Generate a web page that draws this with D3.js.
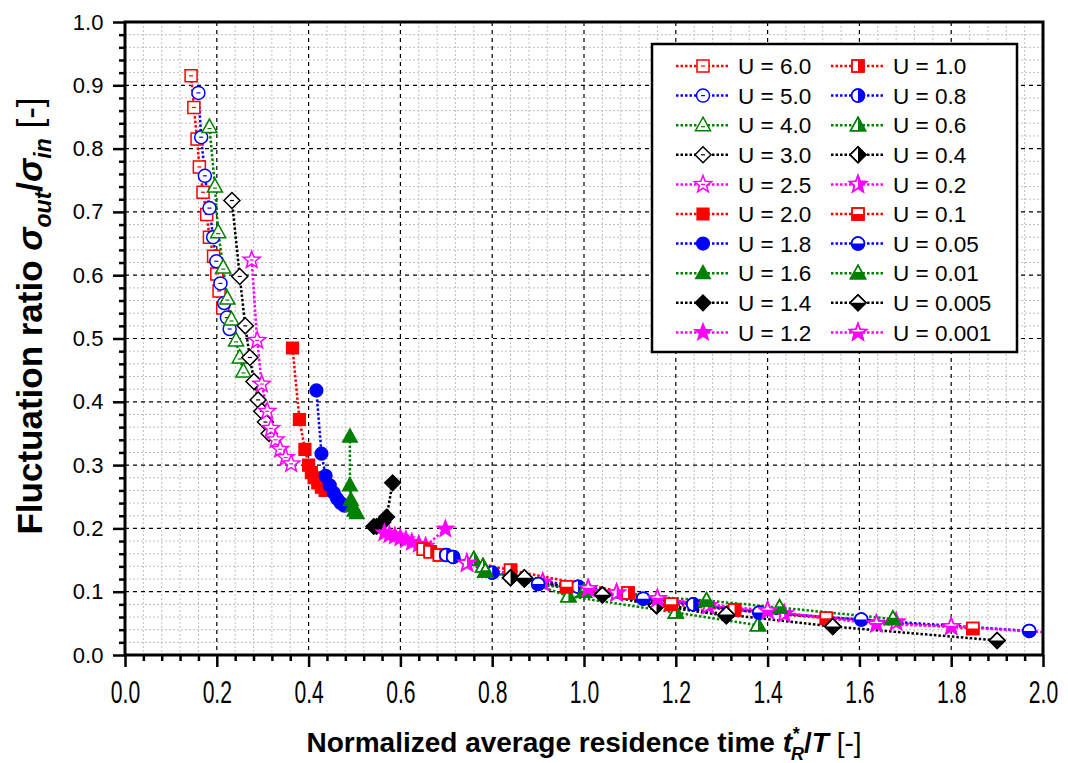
<!DOCTYPE html>
<html><head><meta charset="utf-8">
<script src="https://cdn.jsdelivr.net/npm/d3@7"></script>
<style>body{margin:0;background:#fff}svg{display:block}</style>
</head><body>
<svg id="chart" width="1068" height="763"></svg>
<script>
// ---------------- DATA ----------------
const xTickLabels = ["0.0","0.2","0.4","0.6","0.8","1.0","1.2","1.4","1.6","1.8","2.0"];
const yTickLabels = ["0.0","0.1","0.2","0.3","0.4","0.5","0.6","0.7","0.8","0.9","1.0"];
const seriesLabels = ["U = 6.0","U = 5.0","U = 4.0","U = 3.0","U = 2.5","U = 2.0","U = 1.8","U = 1.6","U = 1.4","U = 1.2",
                      "U = 1.0","U = 0.8","U = 0.6","U = 0.4","U = 0.2","U = 0.1","U = 0.05","U = 0.01","U = 0.005","U = 0.001"];

const u6_0 = [[0.144,0.915],[0.150,0.865],[0.157,0.815],[0.162,0.771],[0.170,0.731],[0.178,0.696],[0.184,0.660],[0.193,0.630],[0.200,0.602],[0.205,0.575],[0.213,0.548]];
const u5_0 = [[0.160,0.888],[0.166,0.818],[0.174,0.757],[0.184,0.706],[0.192,0.660],[0.199,0.622],[0.208,0.587],[0.216,0.556],[0.222,0.533],[0.228,0.515]];
const u4_0 = [[0.184,0.834],[0.196,0.740],[0.203,0.668],[0.214,0.612],[0.223,0.563],[0.232,0.530],[0.242,0.497],[0.250,0.470],[0.258,0.448]];
const u3_0 = [[0.233,0.718],[0.250,0.598],[0.262,0.520],[0.272,0.470],[0.281,0.432],[0.290,0.403],[0.298,0.385],[0.306,0.368],[0.314,0.350]];
const u2_5 = [[0.276,0.624],[0.288,0.497],[0.298,0.428],[0.310,0.385],[0.318,0.358],[0.328,0.340],[0.338,0.325],[0.350,0.312],[0.362,0.302]];
const u2_0 = [[0.365,0.485],[0.380,0.372],[0.392,0.325],[0.400,0.300],[0.406,0.288],[0.412,0.280],[0.420,0.272],[0.428,0.265],[0.436,0.260]];
const u1_8 = [[0.417,0.418],[0.428,0.318],[0.437,0.283],[0.446,0.268],[0.455,0.256],[0.462,0.247],[0.470,0.240],[0.478,0.236]];
const u1_6 = [[0.490,0.345],[0.490,0.268],[0.492,0.245],[0.496,0.235],[0.500,0.228],[0.505,0.224]];
const u1_4 = [[0.583,0.272],[0.570,0.218],[0.562,0.210],[0.555,0.205],[0.548,0.203],[0.542,0.203]];
const u1_2 = [[0.698,0.199],[0.655,0.172],[0.640,0.175],[0.625,0.178],[0.612,0.182],[0.600,0.185],[0.588,0.188],[0.576,0.190],[0.565,0.193]];
const u1_0 = [[0.650,0.167],[0.665,0.163],[0.685,0.158],[0.840,0.134],[1.096,0.098],[1.328,0.071]];
const u0_8 = [[0.700,0.158],[0.715,0.155],[0.800,0.130],[0.987,0.108],[1.238,0.080]];
const u0_6 = [[0.760,0.151],[0.780,0.140],[0.966,0.093],[1.200,0.067],[1.379,0.047]];
const u0_4 = [[0.840,0.122],[0.870,0.120],[1.158,0.078],[1.310,0.062]];
const u0_2 = [[0.745,0.145],[0.910,0.115],[1.071,0.098],[1.270,0.078],[1.436,0.065],[1.680,0.052]];
const u0_1 = [[0.962,0.108],[1.190,0.080],[1.528,0.058],[1.847,0.042]];
const u0_05 = [[0.900,0.112],[1.129,0.089],[1.382,0.067],[1.604,0.056],[1.970,0.038]];
const u0_01 = [[0.785,0.132],[1.000,0.100],[1.267,0.086],[1.426,0.075],[1.673,0.057]];
const u0_005 = [[0.870,0.122],[1.040,0.095],[1.310,0.064],[1.542,0.045],[1.900,0.023]];
const u0_001 = [[1.009,0.105],[1.160,0.089],[1.400,0.070],[1.637,0.049],[1.800,0.045],[2.050,0.034]];

const seriesData = [u6_0,u5_0,u4_0,u3_0,u2_5,u2_0,u1_8,u1_6,u1_4,u1_2,u1_0,u0_8,u0_6,u0_4,u0_2,u0_1,u0_05,u0_01,u0_005,u0_001];

// ---------------- STYLE ----------------
const palette = ["#FF0000","#0000FF","#008000","#000000","#FF00FF"];
const shapes = ["square","circle","triangle","diamond","star"];
const styles = seriesLabels.map((l,i)=>({color:palette[i%5], shape:shapes[i%5], mode: i<5?"open": i<10?"filled": i<15?"right":"bottom"}));

// ---------------- LAYOUT ----------------
const svg = d3.select("#chart");
const L=125,R=1043,T=22,B=655;
const X = d3.scaleLinear().domain([0,2]).range([L,R]);
const Y = d3.scaleLinear().domain([0,1]).range([B,T]);

const defs = svg.append("defs");
defs.append("clipPath").attr("id","clipRight").attr("clipPathUnits","objectBoundingBox")
  .append("rect").attr("x",0.5).attr("y",-0.1).attr("width",0.7).attr("height",1.2);
defs.append("clipPath").attr("id","clipBottom").attr("clipPathUnits","objectBoundingBox")
  .append("rect").attr("x",-0.1).attr("y",0.5).attr("width",1.2).attr("height",0.7);
defs.append("clipPath").attr("id","plotClip").append("rect").attr("x",L).attr("y",T).attr("width",R-L).attr("height",B-T);

// grid
const minorX = d3.range(0,2.0001,0.04).filter(v=>Math.abs(v/0.2-Math.round(v/0.2))>1e-6);
const minorY = d3.range(0,1.0001,0.02).filter(v=>Math.abs(v/0.1-Math.round(v/0.1))>1e-6);
const majorX = d3.range(0,2.0001,0.2);
const majorY = d3.range(0,1.0001,0.1);
const grid = svg.append("g");
grid.selectAll(".gx").data(minorX).join("line").attr("x1",d=>X(d)).attr("x2",d=>X(d)).attr("y1",T).attr("y2",B)
  .attr("stroke","#c0c0c0").attr("stroke-width",1).attr("stroke-dasharray","2,2");
grid.selectAll(".gy").data(minorY).join("line").attr("y1",d=>Y(d)).attr("y2",d=>Y(d)).attr("x1",L).attr("x2",R)
  .attr("stroke","#c0c0c0").attr("stroke-width",1).attr("stroke-dasharray","2,2");
grid.selectAll(".Gx").data(majorX.slice(1,-1)).join("line").attr("x1",d=>X(d)).attr("x2",d=>X(d)).attr("y1",T).attr("y2",B)
  .attr("stroke","#000").attr("stroke-width",1.2).attr("stroke-dasharray","4,4");
grid.selectAll(".Gy").data(majorY.slice(1,-1)).join("line").attr("y1",d=>Y(d)).attr("y2",d=>Y(d)).attr("x1",L).attr("x2",R)
  .attr("stroke","#000").attr("stroke-width",1.2).attr("stroke-dasharray","4,4");

// axes
function styleAxis(g){ g.select(".domain").remove(); g.selectAll("line").attr("stroke","#000").attr("stroke-width",2.5); }
svg.append("g").attr("transform",`translate(0,${B})`)
  .call(d3.axisBottom(X).tickValues(minorX).tickSize(6).tickFormat("")).call(styleAxis);
svg.append("g").attr("transform",`translate(${L},0)`)
  .call(d3.axisLeft(Y).tickValues(minorY).tickSize(6).tickFormat("")).call(styleAxis);
const xAx = svg.append("g").attr("transform",`translate(0,${B})`)
  .call(d3.axisBottom(X).tickValues(majorX).tickSize(12).tickFormat((d,i)=>xTickLabels[i])).call(styleAxis);
xAx.selectAll("text").attr("font-family","Liberation Sans, Arial, sans-serif").attr("font-size",24).attr("fill","#000")
  .attr("y",null).attr("dy",null).attr("transform","translate(0,48) scale(0.88,1.3)");
const yAx = svg.append("g").attr("transform",`translate(${L},0)`)
  .call(d3.axisLeft(Y).tickValues(majorY).tickSize(12).tickFormat((d,i)=>yTickLabels[i])).call(styleAxis);
yAx.selectAll("text").attr("font-family","Liberation Sans, Arial, sans-serif").attr("font-size",22).attr("fill","#000").attr("dx","-0.3em");

// markers
function shapePath(shape){
  if(shape==="square"){const s=6;return `M${-s},${-s}H${s}V${s}H${-s}Z`;}
  if(shape==="circle"){const r=6.5;return `M${-r},0A${r},${r} 0 1,0 ${r},0A${r},${r} 0 1,0 ${-r},0Z`;}
  if(shape==="triangle"){return `M0,-8L7.5,5.5L-7.5,5.5Z`;}
  if(shape==="diamond"){return `M0,-8L8,0L0,8L-8,0Z`;}
  if(shape==="star"){const Ro=9,Ri=3.8;let p=[];for(let k=0;k<10;k++){const a=-Math.PI/2+k*Math.PI/5;const rr=k%2?Ri:Ro;p.push([rr*Math.cos(a),rr*Math.sin(a)]);}
    return "M"+p.map(q=>q[0].toFixed(2)+","+q[1].toFixed(2)).join("L")+"Z";}
}
function drawMarker(g, st){
  const d = shapePath(st.shape);
  if(st.mode==="filled"){
    g.append("path").attr("d",d).attr("fill",st.color).attr("stroke",st.color).attr("stroke-width",1.2);
  } else {
    g.append("path").attr("d",d).attr("fill","#fff").attr("stroke",st.color).attr("stroke-width",1.5);
    if(st.mode==="open"){
      const yoff = st.shape==="triangle"?1.5:0;
      g.append("line").attr("x1",-2).attr("x2",2).attr("y1",yoff).attr("y2",yoff).attr("stroke",st.color).attr("stroke-width",1.2);
    } else {
      g.append("path").attr("d",d).attr("fill",st.color).attr("stroke","none")
        .attr("clip-path", st.mode==="right"?"url(#clipRight)":"url(#clipBottom)");
      g.append("path").attr("d",d).attr("fill","none").attr("stroke",st.color).attr("stroke-width",1.5);
    }
  }
}

const plot = svg.append("g").attr("clip-path","url(#plotClip)");
const line = d3.line().x(d=>X(d[0])).y(d=>Y(d[1]));
seriesData.forEach((data,i)=>{
  const st = styles[i];
  plot.append("path").datum(data).attr("d",line).attr("fill","none").attr("stroke",st.color)
    .attr("stroke-width",2.5).attr("stroke-dasharray","2.5,2");
});
seriesData.forEach((data,i)=>{
  const st = styles[i];
  data.forEach(p=>{ drawMarker(plot.append("g").attr("transform",`translate(${X(p[0])},${Y(p[1])})`), st); });
});

// frame
svg.append("rect").attr("x",L).attr("y",T).attr("width",R-L).attr("height",B-T).attr("fill","none").attr("stroke","#000").attr("stroke-width",3);

// legend
const lg = svg.append("g");
lg.append("rect").attr("x",652).attr("y",44).attr("width",365).attr("height",308).attr("fill","#fff").attr("stroke","#000").attr("stroke-width",2.5);
seriesLabels.forEach((lab,i)=>{
  const col = i<10?0:1, row = i%10;
  const cx = col===0?703:858, cy = 66+row*29.6;
  const st = styles[i];
  lg.append("line").attr("x1",cx-27).attr("x2",cx+27).attr("y1",cy).attr("y2",cy).attr("stroke",st.color).attr("stroke-width",2.5).attr("stroke-dasharray","2.5,2");
  drawMarker(lg.append("g").attr("transform",`translate(${cx},${cy})`), st);
  lg.append("text").attr("x",cx+35).attr("y",cy).attr("dy","0.36em").attr("font-family","Liberation Sans, Arial, sans-serif").attr("font-size",22.5).text(lab);
});

// axis titles
const xt = svg.append("text").attr("x",584).attr("y",752).attr("text-anchor","middle")
  .attr("font-family","Liberation Sans, Arial, sans-serif").attr("font-size",28).attr("font-weight","bold");
xt.append("tspan").text("Normalized average residence time ");
xt.append("tspan").attr("font-style","italic").text("t");
xt.append("tspan").attr("font-size",18).attr("dy",-12).attr("font-style","italic").text("*");
xt.append("tspan").attr("font-size",18).attr("dx",-8).attr("dy",20).attr("font-style","italic").text("R");
xt.append("tspan").attr("dy",-8).text("/");
xt.append("tspan").attr("font-style","italic").text("T");
xt.append("tspan").attr("font-weight","normal").text(" [-]");

const yt = svg.append("text").attr("transform","translate(42,316) rotate(-90)").attr("text-anchor","middle")
  .attr("font-family","Liberation Sans, Arial, sans-serif").attr("font-size",35).attr("font-weight","bold");
yt.append("tspan").text("Fluctuation ratio ");
yt.append("tspan").attr("font-style","italic").text("σ");
yt.append("tspan").attr("font-style","italic").attr("font-size",23).attr("dy",9).text("out");
yt.append("tspan").attr("dy",-9).text("/");
yt.append("tspan").attr("font-style","italic").text("σ");
yt.append("tspan").attr("font-style","italic").attr("font-size",23).attr("dy",9).text("in");
yt.append("tspan").attr("dy",-9).attr("font-weight","normal").text(" [-]");
</script>
</body></html>
